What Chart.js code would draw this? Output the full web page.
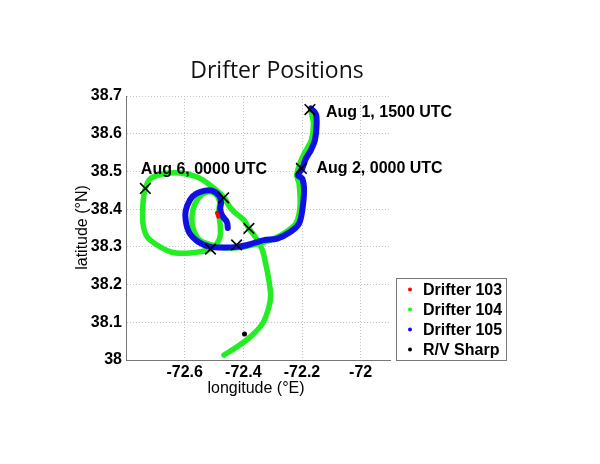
<!DOCTYPE html>
<html><head><meta charset="utf-8">
<script src="https://cdn.jsdelivr.net/npm/chart.js@4/dist/chart.umd.min.js"></script>
<style>html,body{margin:0;padding:0;background:#fff}canvas{display:block}</style>
</head><body>
<canvas id="c" width="600" height="464"></canvas>
<script>
// ---- data ----
const seriesNames = ['Drifter 103', 'Drifter 104', 'Drifter 105', 'R/V Sharp'];
const xTicks = [-72.6, -72.4, -72.2, -72];
const yTicks = [38, 38.1, 38.2, 38.3, 38.4, 38.5, 38.6, 38.7];

const lon103 = [-72.490, -72.485];
const lat103 = [38.390, 38.380];

const lon104 = [-72.170,-72.161,-72.168,-72.193,-72.207,-72.218,-72.210,-72.207,-72.221,-72.261,-72.307,-72.358,-72.409,-72.464,-72.508,-72.549,-72.573,-72.572,-72.553,-72.525,-72.498,-72.481,-72.484,-72.479,-72.479,-72.491,-72.512,-72.556,-72.604,-72.648,-72.694,-72.728,-72.742,-72.742,-72.734,-72.717,-72.671,-72.614,-72.557,-72.512,-72.478,-72.464,-72.450,-72.432,-72.398,-72.381,-72.358,-72.335,-72.324,-72.313,-72.307,-72.313,-72.334,-72.375,-72.421,-72.466];
const lat104 = [38.662,38.627,38.583,38.547,38.521,38.490,38.468,38.405,38.362,38.336,38.318,38.307,38.299,38.297,38.305,38.318,38.355,38.397,38.429,38.445,38.442,38.421,38.392,38.358,38.328,38.307,38.294,38.286,38.283,38.287,38.305,38.327,38.362,38.415,38.455,38.481,38.494,38.496,38.485,38.463,38.441,38.429,38.410,38.393,38.371,38.349,38.325,38.291,38.256,38.212,38.172,38.140,38.097,38.062,38.035,38.013];

const lon105 = [-72.170,-72.153,-72.150,-72.156,-72.170,-72.187,-72.199,-72.214,-72.199,-72.193,-72.199,-72.210,-72.239,-72.284,-72.330,-72.386,-72.421,-72.466,-72.512,-72.553,-72.586,-72.598,-72.591,-72.573,-72.546,-72.507,-72.481,-72.476,-72.479,-72.473,-72.456,-72.453];
const lat105 = [38.667,38.653,38.627,38.583,38.556,38.534,38.508,38.490,38.481,38.450,38.397,38.362,38.340,38.322,38.318,38.305,38.300,38.298,38.300,38.313,38.340,38.384,38.410,38.434,38.446,38.449,38.434,38.416,38.402,38.384,38.366,38.350];

const lonSharp = [-72.396];
const latSharp = [38.069];

const markLon = [-72.173, -72.202, -72.423, -72.512, -72.467, -72.381, -72.734];
const markLat = [38.664, 38.508, 38.305, 38.294, 38.430, 38.349, 38.455];

const annoText = ['Aug 1, 1500 UTC', 'Aug 2, 0000 UTC', 'Aug 6, 0000 UTC'];
const annoMark = [0, 1, 6];

// ---- styles ----
const seriesColors = ['#ff0000', '#22ee22', '#1010e6', '#000000'];
const annoOffset = [[16, 7], [15, 4.5], [-4.5, -14]];
const BOLD = 'bold 16px "Liberation Sans", Arial, sans-serif';
const NORMAL = '16px "Liberation Sans", Arial, sans-serif';

const pts = (lons, lats) => lons.map((x, i) => ({x: x, y: lats[i]}));

const track = (label, data, color, order, w) => ({
  label, data, showLine: true, borderColor: color, backgroundColor: color,
  borderWidth: w, pointRadius: 0, tension: 0.3, order,
  borderCapStyle: 'round', borderJoinStyle: 'round'
});

const overlay = {
  id: 'overlay',
  afterDraw(chart) {
    const ctx = chart.ctx, xs = chart.scales.x, ys = chart.scales.y;
    ctx.save();
    ctx.fillStyle = '#000';
    // annotations
    ctx.font = BOLD;
    ctx.textAlign = 'left';
    ctx.textBaseline = 'alphabetic';
    annoText.forEach((t, i) => {
      const m = annoMark[i];
      const px = xs.getPixelForValue(markLon[m]) + annoOffset[i][0];
      const py = ys.getPixelForValue(markLat[m]) + annoOffset[i][1];
      ctx.fillText(t, px, py);
    });
    // title
    ctx.font = '23px "Open Sans", "Noto Sans", sans-serif';
    ctx.textAlign = 'center';
    ctx.fillStyle = '#111';
    ctx.fillText('Drifter Positions', 277, 78);
    // axis titles
    ctx.fillStyle = '#000';
    ctx.font = NORMAL;
    ctx.fillText('longitude (\u00B0E)', 256, 392.5);
    ctx.save();
    ctx.translate(86.5, 227.5);
    ctx.rotate(-Math.PI / 2);
    ctx.fillText('latitude (\u00B0N)', 0, 0);
    ctx.restore();
    // legend
    const bx = 396.5, by = 278.5, bw = 110, bh = 82;
    ctx.fillStyle = '#fff';
    ctx.fillRect(bx, by, bw, bh);
    ctx.strokeStyle = '#777';
    ctx.lineWidth = 1;
    ctx.strokeRect(bx, by, bw, bh);
    ctx.font = BOLD;
    ctx.textAlign = 'left';
    ctx.textBaseline = 'middle';
    seriesNames.forEach((n, i) => {
      const yy = 289.5 + i * 20;
      ctx.fillStyle = seriesColors[i];
      ctx.beginPath();
      ctx.arc(410, yy, 2, 0, Math.PI * 2);
      ctx.fill();
      ctx.fillStyle = '#000';
      ctx.fillText(n, 423, yy + 1);
    });
    ctx.restore();
  }
};

const axisCommon = {
  type: 'linear',
  grid: {color: '#c2c2c2', lineWidth: 1, drawTicks: false},
  border: {display: true, color: '#777', width: 1, dash: [1, 2]},
  ticks: {color: '#000', font: {family: '"Liberation Sans", Arial, sans-serif', size: 16, weight: 'bold'},
          callback: v => String(v), autoSkip: false, maxRotation: 0}
};

new Chart(document.getElementById('c'), {
  type: 'scatter',
  data: {
    datasets: [
      track(seriesNames[1], pts(lon104, lat104), seriesColors[1], 4, 5.5),
      track(seriesNames[2], pts(lon105, lat105), seriesColors[2], 3, 6),
      track(seriesNames[0], pts(lon103, lat103), seriesColors[0], 2, 4),
      {label: 'marks', data: pts(markLon, markLat), pointStyle: 'crossRot', pointRadius: 7.5,
       borderColor: '#000', borderWidth: 1.6, backgroundColor: '#000', order: 1},
      {label: seriesNames[3], data: pts(lonSharp, latSharp), pointRadius: 2.5,
       backgroundColor: '#000', borderColor: '#000', borderWidth: 0, order: 0}
    ]
  },
  options: {
    responsive: false, animation: false,
    layout: {padding: {left: 0, top: 96, right: 210, bottom: 0}},
    plugins: {legend: {display: false}, tooltip: {enabled: false}, title: {display: false}},
    scales: {
      x: Object.assign({}, axisCommon, {
        position: 'bottom', min: -72.8, max: -71.9,
        afterBuildTicks: s => { s.ticks = xTicks.map(v => ({value: v})); },
        afterFit: s => { s.height = 104; },
        ticks: Object.assign({}, axisCommon.ticks, {padding: 3})
      }),
      y: Object.assign({}, axisCommon, {
        position: 'left', min: 38, max: 38.7,
        afterBuildTicks: s => { s.ticks = yTicks.map(v => ({value: v})); },
        afterFit: s => { s.width = 126; },
        ticks: Object.assign({}, axisCommon.ticks, {padding: 4})
      })
    }
  },
  plugins: [overlay]
});
</script>
</body></html>
